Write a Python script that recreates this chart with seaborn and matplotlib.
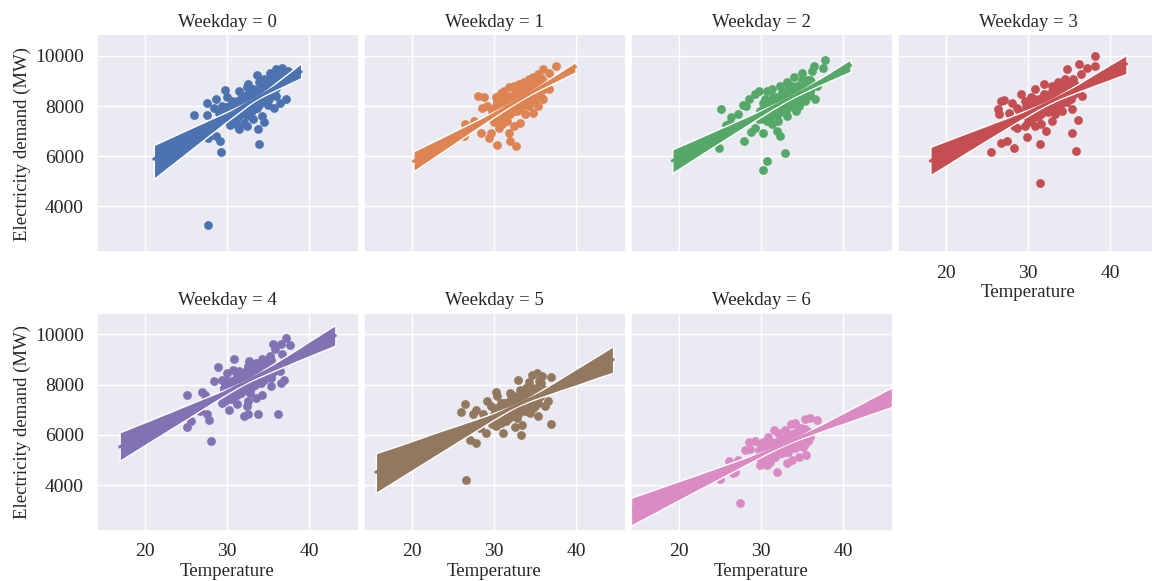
import numpy as np
import pandas as pd
import matplotlib
matplotlib.use("Agg")
import matplotlib.pyplot as plt
from matplotlib.collections import PolyCollection
import seaborn as sns

# (temperature, demand in MW) per weekday: scattered days
weekday_0 = [
    (21.9, 6050),
    (27.7, 3270), (26.0, 7650), (27.5, 8140), (28.6, 8300), (29.7, 8640),
    (27.6, 7630), (27.7, 6740), (28.6, 6810), (29.1, 6600), (29.3, 6180),
    (30.3, 7230), (31.4, 8600), (32.5, 8870), (33.6, 9250), (35.2, 9330),
    (35.9, 9470), (36.7, 9520), (37.4, 9400), (36.7, 9230), (37.2, 8270),
    (36.4, 8140), (35.7, 7940), (35.0, 8030), (34.5, 7370), (33.8, 7080),
    (33.9, 6490), (34.2, 7610), (31.5, 7080), (32.0, 7340), (32.4, 7610),
    (33.0, 7810), (31.1, 7470), (30.9, 8140), (30.0, 8340), (29.4, 8000),
    (28.4, 7940), (29.0, 7740), (33.1, 8670), (33.9, 8940), (34.5, 9070),
    (34.7, 8800), (33.5, 8270), (32.7, 8140), (31.9, 8400), (31.3, 7210),
    (31.7, 7740), (32.4, 7210), (33.2, 7470), (33.6, 7940), (35.4, 9140),
    (34.8, 8400), (30.7, 7740), (30.3, 8000), (35.6, 8540), (36.2, 9200),
    (33.0, 8470), (32.4, 8740), (34.2, 8600),
]
weekday_1 = [
    (37.5, 9600), (36.7, 9330), (35.9, 9470), (35.4, 9270), (34.8, 9140),
    (34.2, 9070), (33.6, 8940), (33.0, 8870), (32.4, 8800), (31.8, 8740),
    (31.2, 8600), (30.8, 8510), (30.2, 8340), (28.0, 8400), (28.8, 8340),
    (28.5, 7940), (29.1, 8000), (29.8, 7810), (30.4, 7610), (30.0, 7410),
    (30.6, 7140), (29.6, 6940), (29.4, 6740), (28.4, 6940), (27.5, 7410),
    (26.5, 7270), (26.3, 6810), (30.4, 6450), (31.8, 6910), (32.0, 6610),
    (32.7, 6410), (32.4, 7210), (33.2, 7340), (33.8, 7670), (34.8, 7710),
    (35.4, 8000), (35.9, 8300), (36.7, 8670), (31.6, 7410), (31.0, 7270),
    (32.8, 7810), (33.4, 8070), (32.2, 8200), (31.4, 8000), (32.6, 8470),
    (34.2, 8470), (34.6, 8740), (33.4, 8600), (31.8, 7670), (35.0, 8270),
    (34.2, 8000), (31.0, 7610),
]
weekday_2 = [
    (37.8, 9840), (36.4, 9600), (36.2, 9400), (37.6, 9530), (35.0, 9330),
    (34.0, 9140), (33.1, 8940), (32.3, 8800), (31.3, 8670), (30.7, 8600),
    (29.7, 8600), (29.3, 8470), (28.5, 8300), (27.8, 8040), (28.2, 8000),
    (25.1, 7870), (26.3, 7570), (27.2, 7670), (25.7, 7260), (26.2, 7310),
    (24.9, 6340), (27.9, 6610), (28.8, 6980), (29.3, 7140), (30.3, 6940),
    (30.7, 5810), (30.3, 5450), (32.9, 6120), (32.3, 6810), (31.9, 7010),
    (31.3, 7270), (32.1, 7410), (33.1, 7610), (34.2, 7810), (34.6, 8000),
    (35.4, 8200), (36.6, 8300), (35.8, 8600), (36.8, 8800), (30.9, 7610),
    (29.9, 7810), (30.5, 8270), (31.5, 8140), (32.5, 8000), (33.6, 8270),
    (33.3, 8670), (34.6, 8800), (31.7, 7810), (32.7, 8470), (29.7, 7470),
]
weekday_3 = [
    (38.2, 10000), (38.2, 9600), (37.2, 9530), (36.2, 9670), (36.4, 9270),
    (34.7, 9470), (34.5, 9070), (33.7, 8940), (32.9, 8800), (32.0, 8870),
    (30.8, 8670), (29.1, 8470), (27.1, 8240), (26.7, 8200), (28.1, 8140),
    (28.7, 7940), (26.4, 7900), (26.5, 7700), (27.7, 7740), (28.9, 7810),
    (29.8, 8000), (28.3, 7210), (28.6, 7140), (29.6, 7210), (29.9, 6770),
    (27.4, 6610), (26.7, 6540), (28.3, 6340), (25.5, 6170), (31.4, 6480),
    (31.5, 4930), (32.2, 7010), (31.6, 7270), (32.9, 7410), (33.3, 7670),
    (34.1, 7810), (35.3, 7870), (36.1, 7450), (35.4, 6910), (35.9, 6210),
    (36.6, 8380), (35.7, 8600), (35.1, 8470), (34.3, 8270), (33.3, 8140),
    (32.0, 7870), (31.0, 7670), (30.4, 7410), (31.2, 8140), (32.4, 8340),
    (33.3, 8540), (34.1, 8670), (34.9, 8870), (30.4, 8340), (29.6, 8200),
    (32.9, 7940), (30.8, 7210),
]
weekday_4 = [
    (37.2, 9870), (37.6, 9570), (36.6, 9600), (35.6, 9600), (35.8, 9400),
    (36.7, 9200), (35.2, 9130), (34.3, 9000), (33.5, 8870), (32.7, 8930),
    (32.5, 8730), (31.5, 8530), (30.8, 9030), (28.9, 8710), (30.7, 8600),
    (28.4, 8130), (29.4, 8200), (30.2, 8070), (27.0, 7700), (27.3, 7570),
    (25.1, 7600), (26.7, 6960), (27.6, 6840), (27.8, 6570), (25.6, 6530),
    (25.1, 6330), (28.0, 5760), (29.4, 7270), (30.2, 7000), (31.2, 7230),
    (32.0, 6760), (32.6, 6830), (33.8, 6840), (36.2, 6840), (32.4, 7130),
    (32.6, 7330), (34.2, 7600), (35.4, 7930), (36.6, 8070), (36.9, 8200),
    (36.4, 8530), (35.4, 8400), (34.4, 8200), (33.4, 8000), (32.2, 7800),
    (31.2, 7600), (31.5, 8000), (33.1, 8270), (33.9, 8470), (34.8, 8670),
    (31.9, 8270), (30.0, 8470), (32.8, 7670), (30.7, 7800), (33.5, 7470),
]
weekday_5 = [
    (35.2, 8470), (35.8, 8330), (36.9, 8290), (32.9, 8200), (34.2, 8090),
    (36.3, 7800), (35.3, 7470), (36.6, 7330), (36.2, 7160), (36.9, 6440),
    (30.2, 7690), (30.4, 7530), (29.2, 7360), (26.5, 7240), (26.0, 6910),
    (27.8, 7000), (27.4, 6840), (28.7, 6840), (28.3, 6270), (29.0, 6070),
    (27.1, 5800), (27.8, 5670), (26.6, 4200), (31.1, 6070), (32.5, 6300),
    (33.3, 5990), (33.4, 6400), (30.8, 6470), (30.2, 6600), (31.6, 6730),
    (32.8, 6670), (34.4, 6870), (35.4, 6730), (34.8, 7070), (33.8, 7330),
    (32.4, 7530), (31.2, 7270), (31.6, 7000), (33.1, 7800), (33.9, 7870),
    (34.9, 7800), (32.0, 7670), (33.6, 7000), (32.4, 6930), (30.4, 6930),
    (29.6, 7130), (35.5, 8130), (34.6, 8400), (32.8, 7270),
]
weekday_6 = [
    (35.4, 6630), (36.0, 6670), (36.8, 6600), (33.6, 6440), (34.5, 6200),
    (31.6, 6200), (35.4, 5930), (36.0, 5930), (35.1, 5530), (35.5, 5200),
    (28.5, 5730), (29.3, 5770), (28.0, 5400), (28.6, 5430), (26.1, 4960),
    (27.2, 5000), (26.8, 4530), (26.6, 4470), (25.0, 4240), (27.4, 3270),
    (29.9, 4800), (30.7, 4800), (31.9, 4510), (33.1, 4870), (33.8, 5000),
    (34.6, 5100), (30.5, 5400), (31.3, 5600), (32.3, 5730), (33.1, 5930),
    (34.1, 6070), (34.9, 6270), (32.5, 5270), (33.3, 5330), (31.7, 5130),
    (30.3, 5730), (32.1, 6070), (32.9, 6200), (33.8, 5600), (34.8, 5730),
    (31.1, 4930), (29.7, 5200), (30.9, 5930), (34.1, 6470),
]

# days packed inside the dense centre of each cloud
weekday_0_dense = [
    (30.0, 7970), (30.1, 7490), (30.2, 7860), (30.3, 7380), (30.4, 8000),
    (30.5, 7670), (30.6, 8190), (30.7, 7560), (30.8, 7870), (30.9, 7690),
    (31.0, 8060), (31.1, 7480), (31.2, 8200), (31.3, 7720), (31.4, 8090),
    (31.5, 7610), (31.6, 8220), (31.7, 7890), (31.8, 8410), (31.9, 7780),
    (32.0, 8100), (32.1, 7920), (32.2, 8290), (32.3, 7710), (32.4, 8420),
    (32.5, 7940), (32.6, 8310), (32.7, 7830), (32.8, 8450), (32.9, 8120),
    (33.0, 8640), (33.1, 8010), (33.2, 8330), (33.3, 8140), (33.4, 8510),
    (33.5, 7930), (33.6, 8650), (33.7, 8170), (33.8, 8540), (33.9, 8060),
    (34.0, 8680), (34.1, 8340), (34.2, 8860), (34.3, 8230), (34.4, 8550),
    (34.5, 8370), (34.6, 8740), (34.7, 8160), (34.8, 8880), (34.9, 8390),
    (35.0, 8760), (35.1, 8280), (35.2, 8900), (35.3, 8570), (35.4, 9090),
    (35.5, 8460), (35.6, 8780), (35.7, 8600), (35.8, 8960), (35.9, 8380),
    (30.05, 7800), (30.15, 7610), (30.25, 7920), (30.35, 7580), (30.45, 7820),
    (30.55, 7580), (30.65, 7950), (30.75, 7770), (30.85, 7920), (30.95, 7720),
    (31.05, 8050), (31.15, 7830), (31.25, 8030), (31.35, 7840), (31.45, 8150),
    (31.55, 7800), (31.65, 8040), (31.75, 7800), (31.85, 8170), (31.95, 8000),
    (32.05, 8150), (32.15, 7950), (32.25, 8280), (32.35, 8050), (32.45, 8250),
    (32.55, 8060), (32.65, 8370), (32.75, 8030), (32.85, 8270), (32.95, 8030),
    (33.05, 8400), (33.15, 8230), (33.25, 8370), (33.35, 8170), (33.45, 8500),
    (33.55, 8280), (33.65, 8480), (33.75, 8290), (33.85, 8600), (33.95, 8260),
    (34.05, 8490), (34.15, 8250), (34.25, 8620), (34.35, 8450), (34.45, 8600),
    (34.55, 8400), (34.65, 8730), (34.75, 8510), (34.85, 8700), (34.95, 8510),
    (35.05, 8820), (35.15, 8480), (35.25, 8720), (35.35, 8480), (35.45, 8850),
    (35.55, 8680), (35.65, 8830), (35.75, 8620), (35.85, 8950), (35.95, 8730),
]
weekday_1_dense = [
    (30.0, 7360), (30.1, 7970), (30.2, 7640), (30.3, 8160), (30.4, 7530),
    (30.5, 7850), (30.6, 7670), (30.7, 8040), (30.8, 7460), (30.9, 8180),
    (31.0, 7700), (31.1, 8070), (31.2, 7590), (31.3, 8200), (31.4, 7870),
    (31.5, 8390), (31.6, 7760), (31.7, 8080), (31.8, 7900), (31.9, 8270),
    (32.0, 7690), (32.1, 8410), (32.2, 7930), (32.3, 8300), (32.4, 7820),
    (32.5, 8440), (32.6, 8100), (32.7, 8620), (32.8, 7990), (32.9, 8310),
    (33.0, 8130), (33.1, 8500), (33.2, 7920), (33.3, 8640), (33.4, 8160),
    (33.5, 8530), (33.6, 8050), (33.7, 8670), (33.8, 8340), (33.9, 8850),
    (34.0, 8220), (34.1, 8540), (34.2, 8360), (34.3, 8730), (34.4, 8150),
    (34.5, 8870), (34.6, 8390), (34.7, 8760), (34.8, 8280), (34.9, 8900),
    (35.0, 8570), (35.1, 9080), (35.2, 8450), (35.3, 8770), (35.4, 8590),
    (35.5, 8960), (35.6, 8380), (35.7, 9100), (35.8, 8620), (35.9, 8990),
    (30.05, 7780), (30.15, 7530), (30.25, 7900), (30.35, 7730), (30.45, 7880),
    (30.55, 7680), (30.65, 8010), (30.75, 7790), (30.85, 7990), (30.95, 7800),
    (31.05, 8110), (31.15, 7770), (31.25, 8010), (31.35, 7760), (31.45, 8130),
    (31.55, 7960), (31.65, 8110), (31.75, 7910), (31.85, 8240), (31.95, 8020),
    (32.05, 8220), (32.15, 8030), (32.25, 8340), (32.35, 8000), (32.45, 8240),
    (32.55, 8000), (32.65, 8360), (32.75, 8190), (32.85, 8340), (32.95, 8140),
    (33.05, 8470), (33.15, 8250), (33.25, 8450), (33.35, 8260), (33.45, 8570),
    (33.55, 8230), (33.65, 8470), (33.75, 8230), (33.85, 8600), (33.95, 8420),
    (34.05, 8570), (34.15, 8370), (34.25, 8700), (34.35, 8480), (34.45, 8680),
    (34.55, 8490), (34.65, 8800), (34.75, 8460), (34.85, 8700), (34.95, 8460),
    (35.05, 8830), (35.15, 8650), (35.25, 8800), (35.35, 8600), (35.45, 8930),
    (35.55, 8710), (35.65, 8910), (35.75, 8720), (35.85, 9030), (35.95, 8690),
]
weekday_2_dense = [
    (30.2, 8130), (30.3, 7500), (30.4, 7820), (30.5, 7640), (30.6, 8010),
    (30.7, 7420), (30.8, 8140), (30.9, 7660), (31.0, 8030), (31.1, 7550),
    (31.2, 8170), (31.3, 7830), (31.4, 8350), (31.5, 7720), (31.6, 8040),
    (31.7, 7860), (31.8, 8230), (31.9, 7650), (32.0, 8360), (32.1, 7880),
    (32.2, 8250), (32.3, 7770), (32.4, 8390), (32.5, 8060), (32.6, 8570),
    (32.7, 7940), (32.8, 8260), (32.9, 8080), (33.0, 8450), (33.1, 7870),
    (33.2, 8580), (33.3, 8100), (33.4, 8470), (33.5, 7990), (33.6, 8610),
    (33.7, 8280), (33.8, 8790), (33.9, 8160), (34.0, 8480), (34.1, 8300),
    (34.2, 8670), (34.3, 8090), (34.4, 8800), (34.5, 8320), (34.6, 8690),
    (34.7, 8210), (34.8, 8830), (34.9, 8500), (35.0, 9020), (35.1, 8380),
    (35.2, 8700), (35.3, 8520), (35.4, 8890), (35.5, 8310), (35.6, 9030),
    (35.7, 8540), (35.8, 8910), (35.9, 8430), (36.0, 9050), (36.1, 8720),
    (30.25, 7830), (30.35, 7630), (30.45, 7960), (30.55, 7740), (30.65, 7930),
    (30.75, 7740), (30.85, 8050), (30.95, 7710), (31.05, 7950), (31.15, 7710),
    (31.25, 8080), (31.35, 7900), (31.45, 8050), (31.55, 7850), (31.65, 8180),
    (31.75, 7960), (31.85, 8160), (31.95, 7960), (32.05, 8270), (32.15, 7930),
    (32.25, 8170), (32.35, 7930), (32.45, 8300), (32.55, 8120), (32.65, 8270),
    (32.75, 8070), (32.85, 8400), (32.95, 8180), (33.05, 8380), (33.15, 8190),
    (33.25, 8490), (33.35, 8150), (33.45, 8390), (33.55, 8150), (33.65, 8520),
    (33.75, 8350), (33.85, 8490), (33.95, 8290), (34.05, 8620), (34.15, 8400),
    (34.25, 8600), (34.35, 8410), (34.45, 8710), (34.55, 8370), (34.65, 8610),
    (34.75, 8370), (34.85, 8740), (34.95, 8570), (35.05, 8710), (35.15, 8510),
    (35.25, 8840), (35.35, 8620), (35.45, 8820), (35.55, 8630), (35.65, 8940),
    (35.75, 8590), (35.85, 8830), (35.95, 8590), (36.05, 8960), (36.15, 8790),
]
weekday_3_dense = [
    (29.8, 7590), (29.9, 7960), (30.0, 7380), (30.1, 8090), (30.2, 7610),
    (30.3, 7980), (30.4, 7490), (30.5, 8110), (30.6, 7780), (30.7, 8290),
    (30.8, 7660), (30.9, 7980), (31.0, 7790), (31.1, 8160), (31.2, 7580),
    (31.3, 8290), (31.4, 7810), (31.5, 8180), (31.6, 7690), (31.7, 8310),
    (31.8, 7980), (31.9, 8490), (32.0, 7860), (32.1, 8180), (32.2, 7990),
    (32.3, 8360), (32.4, 7780), (32.5, 8490), (32.6, 8010), (32.7, 8380),
    (32.8, 7890), (32.9, 8510), (33.0, 8180), (33.1, 8690), (33.2, 8060),
    (33.3, 8380), (33.4, 8190), (33.5, 8560), (33.6, 7980), (33.7, 8690),
    (33.8, 8210), (33.9, 8570), (34.0, 8090), (34.1, 8710), (34.2, 8370),
    (34.3, 8890), (34.4, 8260), (34.5, 8570), (34.6, 8390), (34.7, 8760),
    (34.8, 8170), (34.9, 8890), (35.0, 8410), (35.1, 8770), (35.2, 8290),
    (35.3, 8910), (35.4, 8570), (35.5, 9090), (35.6, 8460), (35.7, 8770),
    (29.85, 7660), (29.95, 7970), (30.05, 7630), (30.15, 7860), (30.25, 7620),
    (30.35, 7990), (30.45, 7810), (30.55, 7960), (30.65, 7760), (30.75, 8080),
    (30.85, 7860), (30.95, 8060), (31.05, 7860), (31.15, 8170), (31.25, 7820),
    (31.35, 8060), (31.45, 7820), (31.55, 8180), (31.65, 8010), (31.75, 8160),
    (31.85, 7950), (31.95, 8280), (32.05, 8060), (32.15, 8250), (32.25, 8060),
    (32.35, 8370), (32.45, 8020), (32.55, 8260), (32.65, 8020), (32.75, 8380),
    (32.85, 8210), (32.95, 8360), (33.05, 8150), (33.15, 8480), (33.25, 8260),
    (33.35, 8450), (33.45, 8260), (33.55, 8570), (33.65, 8220), (33.75, 8460),
    (33.85, 8220), (33.95, 8580), (34.05, 8410), (34.15, 8560), (34.25, 8350),
    (34.35, 8680), (34.45, 8460), (34.55, 8650), (34.65, 8460), (34.75, 8770),
    (34.85, 8420), (34.95, 8660), (35.05, 8420), (35.15, 8780), (35.25, 8610),
    (35.35, 8760), (35.45, 8550), (35.55, 8880), (35.65, 8660), (35.75, 8850),
]
weekday_4_dense = [
    (29.6, 7840), (29.7, 7350), (29.8, 7970), (29.9, 7640), (30.0, 8160),
    (30.1, 7520), (30.2, 7840), (30.3, 7660), (30.4, 8030), (30.5, 7440),
    (30.6, 8160), (30.7, 7680), (30.8, 8040), (30.9, 7560), (31.0, 8180),
    (31.1, 7850), (31.2, 8360), (31.3, 7730), (31.4, 8050), (31.5, 7860),
    (31.6, 8230), (31.7, 7650), (31.8, 8370), (31.9, 7880), (32.0, 8250),
    (32.1, 7770), (32.2, 8380), (32.3, 8050), (32.4, 8570), (32.5, 7940),
    (32.6, 8250), (32.7, 8070), (32.8, 8440), (32.9, 7860), (33.0, 8570),
    (33.1, 8090), (33.2, 8460), (33.3, 7970), (33.4, 8590), (33.5, 8260),
    (33.6, 8780), (33.7, 8140), (33.8, 8460), (33.9, 8280), (34.0, 8640),
    (34.1, 8060), (34.2, 8780), (34.3, 8300), (34.4, 8660), (34.5, 8180),
    (34.6, 8800), (34.7, 8460), (34.8, 8980), (34.9, 8350), (35.0, 8670),
    (35.1, 8480), (35.2, 8850), (35.3, 8270), (35.4, 8990), (35.5, 8500),
    (29.65, 7850), (29.75, 7670), (29.85, 7820), (29.95, 7620), (30.05, 7950),
    (30.15, 7720), (30.25, 7920), (30.35, 7730), (30.45, 8030), (30.55, 7690),
    (30.65, 7930), (30.75, 7690), (30.85, 8050), (30.95, 7880), (31.05, 8030),
    (31.15, 7820), (31.25, 8150), (31.35, 7930), (31.45, 8130), (31.55, 7930),
    (31.65, 8240), (31.75, 7900), (31.85, 8130), (31.95, 7890), (32.05, 8260),
    (32.15, 8090), (32.25, 8230), (32.35, 8030), (32.45, 8360), (32.55, 8140),
    (32.65, 8330), (32.75, 8140), (32.85, 8450), (32.95, 8100), (33.05, 8340),
    (33.15, 8100), (33.25, 8470), (33.35, 8290), (33.45, 8440), (33.55, 8240),
    (33.65, 8560), (33.75, 8340), (33.85, 8540), (33.95, 8350), (34.05, 8650),
    (34.15, 8310), (34.25, 8550), (34.35, 8300), (34.45, 8670), (34.55, 8500),
    (34.65, 8650), (34.75, 8440), (34.85, 8770), (34.95, 8550), (35.05, 8750),
    (35.15, 8550), (35.25, 8860), (35.35, 8520), (35.45, 8750), (35.55, 8510),
]
weekday_5_dense = [
    (29.8, 6430), (29.9, 6750), (30.0, 6570), (30.1, 6930), (30.2, 6350),
    (30.3, 7070), (30.4, 6580), (30.5, 6950), (30.6, 6460), (30.7, 7080),
    (30.8, 6750), (30.9, 7260), (31.0, 6630), (31.1, 6950), (31.2, 6760),
    (31.3, 7130), (31.4, 6550), (31.5, 7260), (31.6, 6780), (31.7, 7150),
    (31.8, 6660), (31.9, 7280), (32.0, 6940), (32.1, 7460), (32.2, 6830),
    (32.3, 7140), (32.4, 6960), (32.5, 7330), (32.6, 6740), (32.7, 7460),
    (32.8, 6980), (32.9, 7340), (33.0, 6860), (33.1, 7470), (33.2, 7140),
    (33.3, 7660), (33.4, 7020), (33.5, 7340), (33.6, 7160), (33.7, 7520),
    (33.8, 6940), (33.9, 7660), (34.0, 7170), (34.1, 7540), (34.2, 7060),
    (34.3, 7670), (34.4, 7340), (34.5, 7850), (34.6, 7220), (34.7, 7540),
    (34.8, 7350), (34.9, 7720), (35.0, 7140), (35.1, 7850), (35.2, 7370),
    (35.3, 7740), (35.4, 7250), (35.5, 7870), (35.6, 7530), (35.7, 8050),
    (29.85, 6530), (29.95, 6770), (30.05, 6520), (30.15, 6890), (30.25, 6720),
    (30.35, 6860), (30.45, 6660), (30.55, 6990), (30.65, 6760), (30.75, 6960),
    (30.85, 6770), (30.95, 7070), (31.05, 6730), (31.15, 6960), (31.25, 6720),
    (31.35, 7090), (31.45, 6910), (31.55, 7060), (31.65, 6860), (31.75, 7180),
    (31.85, 6960), (31.95, 7160), (32.05, 6960), (32.15, 7270), (32.25, 6920),
    (32.35, 7160), (32.45, 6920), (32.55, 7280), (32.65, 7110), (32.75, 7260),
    (32.85, 7050), (32.95, 7380), (33.05, 7160), (33.15, 7350), (33.25, 7160),
    (33.35, 7470), (33.45, 7120), (33.55, 7360), (33.65, 7110), (33.75, 7480),
    (33.85, 7310), (33.95, 7450), (34.05, 7250), (34.15, 7580), (34.25, 7350),
    (34.35, 7550), (34.45, 7360), (34.55, 7660), (34.65, 7320), (34.75, 7560),
    (34.85, 7310), (34.95, 7680), (35.05, 7500), (35.15, 7650), (35.25, 7450),
    (35.35, 7770), (35.45, 7550), (35.55, 7750), (35.65, 7550), (35.75, 7860),
]
weekday_6_dense = [
    (29.8, 5410), (29.9, 5140), (30.0, 5550), (30.1, 5050), (30.2, 5300),
    (30.3, 5150), (30.4, 5450), (30.5, 4980), (30.6, 5560), (30.7, 5170),
    (30.8, 5460), (30.9, 5080), (31.0, 5570), (31.1, 5300), (31.2, 5720),
    (31.3, 5210), (31.4, 5470), (31.5, 5320), (31.6, 5610), (31.7, 5150),
    (31.8, 5720), (31.9, 5340), (32.0, 5630), (32.1, 5240), (32.2, 5740),
    (32.3, 5470), (32.4, 5880), (32.5, 5380), (32.6, 5630), (32.7, 5490),
    (32.8, 5780), (32.9, 5310), (33.0, 5890), (33.1, 5500), (33.2, 5800),
    (33.3, 5410), (33.4, 5900), (33.5, 5640), (33.6, 6050), (33.7, 5540),
    (33.8, 5800), (33.9, 5650), (34.0, 5950), (34.1, 5480), (34.2, 6050),
    (34.3, 5670), (34.4, 5960), (34.5, 5570), (34.6, 6070), (34.7, 5800),
    (34.8, 6220), (34.9, 5710), (35.0, 5960), (35.1, 5820), (35.2, 6110),
    (35.3, 5640), (35.4, 6220), (35.5, 5830), (35.6, 6130), (35.7, 5740),
    (29.85, 5080), (29.95, 5410), (30.05, 5180), (30.15, 5370), (30.25, 5180),
    (30.35, 5480), (30.45, 5140), (30.55, 5370), (30.65, 5120), (30.75, 5490),
    (30.85, 5310), (30.95, 5450), (31.05, 5250), (31.15, 5570), (31.25, 5350),
    (31.35, 5540), (31.45, 5340), (31.55, 5650), (31.65, 5300), (31.75, 5530),
    (31.85, 5290), (31.95, 5650), (32.05, 5480), (32.15, 5620), (32.25, 5410),
    (32.35, 5740), (32.45, 5510), (32.55, 5710), (32.65, 5510), (32.75, 5810),
    (32.85, 5470), (32.95, 5700), (33.05, 5450), (33.15, 5820), (33.25, 5640),
    (33.35, 5790), (33.45, 5580), (33.55, 5900), (33.65, 5680), (33.75, 5870),
    (33.85, 5670), (33.95, 5980), (34.05, 5630), (34.15, 5870), (34.25, 5620),
    (34.35, 5980), (34.45, 5810), (34.55, 5950), (34.65, 5740), (34.75, 6070),
    (34.85, 5840), (34.95, 6040), (35.05, 5840), (35.15, 6140), (35.25, 5800),
    (35.35, 6030), (35.45, 5790), (35.55, 6150), (35.65, 5970), (35.75, 6120),
]

weekdays = [
    weekday_0 + weekday_0_dense, weekday_1 + weekday_1_dense,
    weekday_2 + weekday_2_dense, weekday_3 + weekday_3_dense,
    weekday_4 + weekday_4_dense, weekday_5 + weekday_5_dense,
    weekday_6 + weekday_6_dense,
]

x_ticks = [20, 30, 40]
y_ticks = [4000, 6000, 8000, 10000]
X, Y = "Temperature", "Electricity demand (MW)"

sns.set_theme(style="darkgrid", palette="deep")
plt.rcParams["font.family"] = ["Liberation Serif", "DejaVu Serif"]
plt.rcParams.update({
    "axes.titlesize": 13.5,
    "axes.labelsize": 13.5,
    "xtick.labelsize": 14,
    "ytick.labelsize": 14,
})

frames = []
for day, pts in enumerate(weekdays):
    arr = np.array(pts, dtype=float)
    frames.append(pd.DataFrame({X: arr[:, 0], Y: arr[:, 1], "Weekday": day}))
df = pd.concat(frames, ignore_index=True)

g = sns.FacetGrid(df, col="Weekday", hue="Weekday", col_wrap=4,
                  height=2.5, aspect=1.2)

# start every facet from the x extent of the full data set
for ax in g.axes.flat:
    ax.scatter(df[X], np.full(len(df), df[Y].mean())).remove()


def reg_panel(data, color, **kws):
    ax = plt.gca()
    sns.regplot(data=data, x=X, y=Y, ax=ax, color=color, truncate=False,
                seed=0, scatter_kws={"s": 40, "alpha": 1, "linewidths": 0})
    # let the shared x range keep its margins for the next facet
    for art in list(ax.lines) + list(ax.collections):
        art.sticky_edges.x.clear()


g.map_dataframe(reg_panel)
g.set_axis_labels(X, Y)

# opaque confidence bands with white outlines
for ax in g.axes.flat:
    for coll in ax.collections:
        if isinstance(coll, PolyCollection):
            coll.set_alpha(1)
            coll.set_edgecolor("white")
            coll.set_linewidth(1.0)
    ax.set_xticks(x_ticks)
    ax.set_yticks(y_ticks)
    ax.set_ylim(2170, 10830)
    ax.xaxis.labelpad = 1.5
    ax.yaxis.labelpad = 2.5
    ax.tick_params(axis="x", pad=3)

# the last facet's fit spans the whole shared range
last_x = g.axes.flat[-1].lines[0].get_xdata()
g.axes.flat[-1].set_xlim(last_x.min(), last_x.max())

fig = g.figure
fig.set_size_inches(11.52, 5.81)
fig.subplots_adjust(left=0.0842, right=1.006, bottom=0.0861, top=0.9398,
                    wspace=0.023, hspace=0.281)
fig.savefig("out.png", dpi=100)
